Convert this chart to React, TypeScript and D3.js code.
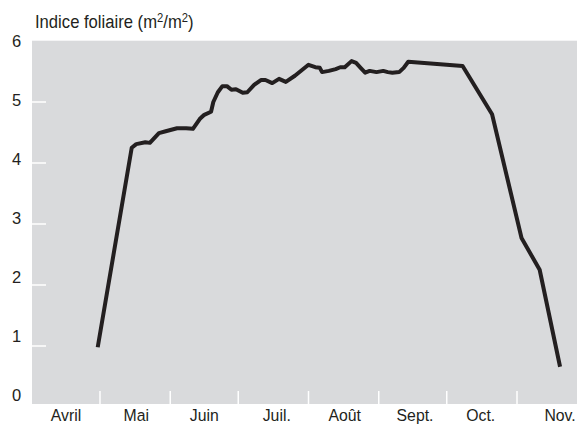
import React from "react";
import * as d3 from "d3";

// ---- data ----
const dates: string[] = [
  "04-30", "05-15", "05-17", "05-21", "05-23", "05-27", "05-30", "06-04", "06-08", "06-11",
  "06-14", "06-16", "06-19", "06-20", "06-22", "06-24", "06-26", "06-28", "06-30", "07-03",
  "07-05", "07-08", "07-11", "07-13", "07-16", "07-19", "07-22", "07-26", "07-29", "08-01",
  "08-04", "08-06", "08-07", "08-10", "08-13", "08-15", "08-17", "08-20", "08-22", "08-24",
  "08-26", "08-28", "08-31", "09-03", "09-05", "09-07", "09-10", "09-12", "09-14", "10-08",
  "10-21", "11-03", "11-11", "11-20",
];
const lai: number[] = [
  0.98, 4.25, 4.31, 4.34, 4.33, 4.49, 4.52, 4.57, 4.57, 4.56,
  4.72, 4.79, 4.84, 5.0, 5.16, 5.26, 5.26, 5.2, 5.21, 5.15,
  5.16, 5.28, 5.36, 5.36, 5.31, 5.38, 5.33, 5.43, 5.52, 5.61,
  5.57, 5.56, 5.49, 5.51, 5.54, 5.57, 5.57, 5.67, 5.64, 5.56,
  5.48, 5.51, 5.49, 5.51, 5.49, 5.48, 5.49, 5.56, 5.66, 5.59,
  4.8, 2.77, 2.25, 0.66,
];
const monthLabels: string[] = ["Avril", "Mai", "Juin", "Juil.", "Août", "Sept.", "Oct.", "Nov."];
const monthLabelDates: string[] = ["04-16", "05-17", "06-16", "07-18", "08-17", "09-17", "10-16", "11-20"];
const monthTickDates: string[] = ["05-01", "06-01", "07-01", "08-01", "09-01", "10-01", "11-01"];
const yTickValues: number[] = [1, 2, 3, 4, 5];
const yLabelValues: number[] = [0, 1, 2, 3, 4, 5, 6];
const title = "Indice foliaire";

const YEAR = 2001;
const parse = (s: string) => new Date(`${YEAR}-${s}T00:00:00`);

export default function App() {
  const W = 577, H = 425;
  const plotLeft = 32, plotRight = 577, plotTop = 40.7, plotBottom = 404;
  const x = d3.scaleTime().domain([parse("04-01"), parse("11-01")]).range([32, 517]);
  const y = d3.scaleLinear().domain([0, 6]).range([407, 41]);
  const yLab = d3.scaleLinear().domain([0, 6]).range([395.5, 41]);

  const pts = dates.map((d, i) => ({ d: parse(d), v: lai[i] }));
  const line = d3.line<{ d: Date; v: number }>().x(p => x(p.d)).y(p => y(p.v));
  const ink = "#231f20";
  const font = "'Liberation Sans', Arial, Helvetica, sans-serif";

  return (
    <svg width={W} height={H} style={{ position: "absolute", left: 0, top: 0, background: "#fff" }}
      fontFamily={font}>
      <rect x={plotLeft} y={plotTop} width={plotRight - plotLeft} height={plotBottom - plotTop} fill="#d9dadc" />
      {yTickValues.map(v => (
        <line key={v} x1={plotLeft} x2={plotLeft + 14} y1={y(v)} y2={y(v)} stroke="#fff" strokeWidth={1.5} />
      ))}
      {monthTickDates.map(d => (
        <line key={d} x1={x(parse(d))} x2={x(parse(d))} y1={391} y2={plotBottom} stroke="#fff" strokeWidth={1.5} />
      ))}
      {yLabelValues.map(v => (
        <text key={v} x={16.5} y={yLab(v)} dy="0.36em" textAnchor="middle" fontSize={16.5} fill={ink}>{v}</text>
      ))}
      {monthLabels.map((m, i) => (
        <g key={m} transform={`translate(${x(parse(monthLabelDates[i]))},420.5) scale(0.93,1)`}>
          <text x={0} y={0} textAnchor="middle" fontSize={17} fill={ink}>{m}</text>
        </g>
      ))}
      <g transform="translate(35,28) scale(0.90,1)">
        <text x={0} y={0} fontSize={18.5} fill={ink}>
          {title} (m<tspan fontSize={12.5} dy={-6}>2</tspan><tspan dy={6}>/m</tspan><tspan fontSize={12.5} dy={-6}>2</tspan><tspan dy={6}>)</tspan>
        </text>
      </g>
      <path d={line(pts) || ""} fill="none" stroke={ink} strokeWidth={4} strokeLinejoin="round" strokeLinecap="butt" />
    </svg>
  );
}
